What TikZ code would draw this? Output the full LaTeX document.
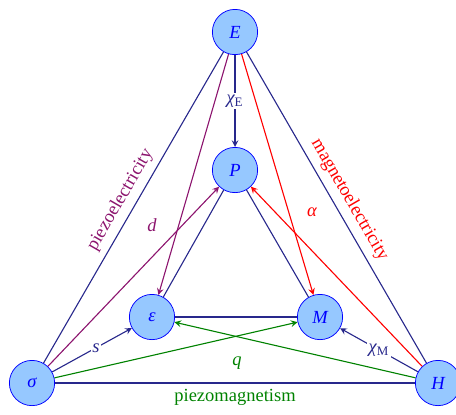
\documentclass[tikz,border=0pt]{standalone}
\usepackage{fontspec}
\setmainfont{Liberation Serif}
\usetikzlibrary{arrows}
\definecolor{nodefill}{RGB}{150,200,255}
\definecolor{linknavy}{RGB}{40,40,140}
\definecolor{linkpurple}{RGB}{140,20,110}
\definecolor{linkgreen}{RGB}{0,130,0}
\tikzset{
  qty/.style={circle,draw=blue,fill=nodefill,text=blue,minimum size=0.86cm,inner sep=0pt,font=\itshape},
  link/.style={linknavy,line width=0.6pt},
  coef/.style={fill=white,inner sep=1pt},
}

\begin{document}
\begin{tikzpicture}[x=0.019cm,y=-0.019cm,>=stealth]
\useasboundingbox (0,0) rectangle (456,414);

% fields and responses
\node[qty] (E) at (235,32) {E};
\node[qty] (P) at (235,170) {P};
\node[qty] (eps) at (152,317) {ε};
\node[qty] (M) at (320,317) {M};
\node[qty] (sig) at (32,383) {σ};
\node[qty] (H) at (438,383) {H};

% outer triangle
\draw[link] (sig) -- node[above,sloped,text=linkpurple] {piezoelectricity} (E);
\draw[link] (E) -- node[above,sloped,text=red] {magnetoelectricity} (H);
\draw[link] (sig) -- node[below,text=linkgreen] {piezomagnetism} (H);

% inner triangle
\draw[link] (P) -- (eps);
\draw[link] (P) -- (M);
\draw[link] (eps) -- (M);

% couplings
\draw[link,->] (E) -- node[coef] {{\itshape χ}\textsubscript{E}} (P);
\draw[link,->] (sig) -- node[coef,pos=0.55] {\itshape s} (eps);
\draw[link,->] (H) -- node[coef] {{\itshape χ}\textsubscript{M}} (M);

\draw[linkpurple,line width=0.6pt,->] (E) -- (eps);
\draw[linkpurple,line width=0.6pt,->] (sig) -- (P);
\draw[red,line width=0.6pt,->] (E) -- (M);
\draw[red,line width=0.6pt,->] (H) -- (P);
\draw[linkgreen,line width=0.6pt,->] (sig) -- (M);
\draw[linkgreen,line width=0.6pt,->] (H) -- (eps);

\node[text=linkpurple,font=\itshape] (dlab) at (152,225) {d};
\node[text=red,font=\itshape] (alab) at (312,212) {α};
\node[text=linkgreen,font=\itshape] (qlab) at (237,363) {q};
\end{tikzpicture}
\end{document}
